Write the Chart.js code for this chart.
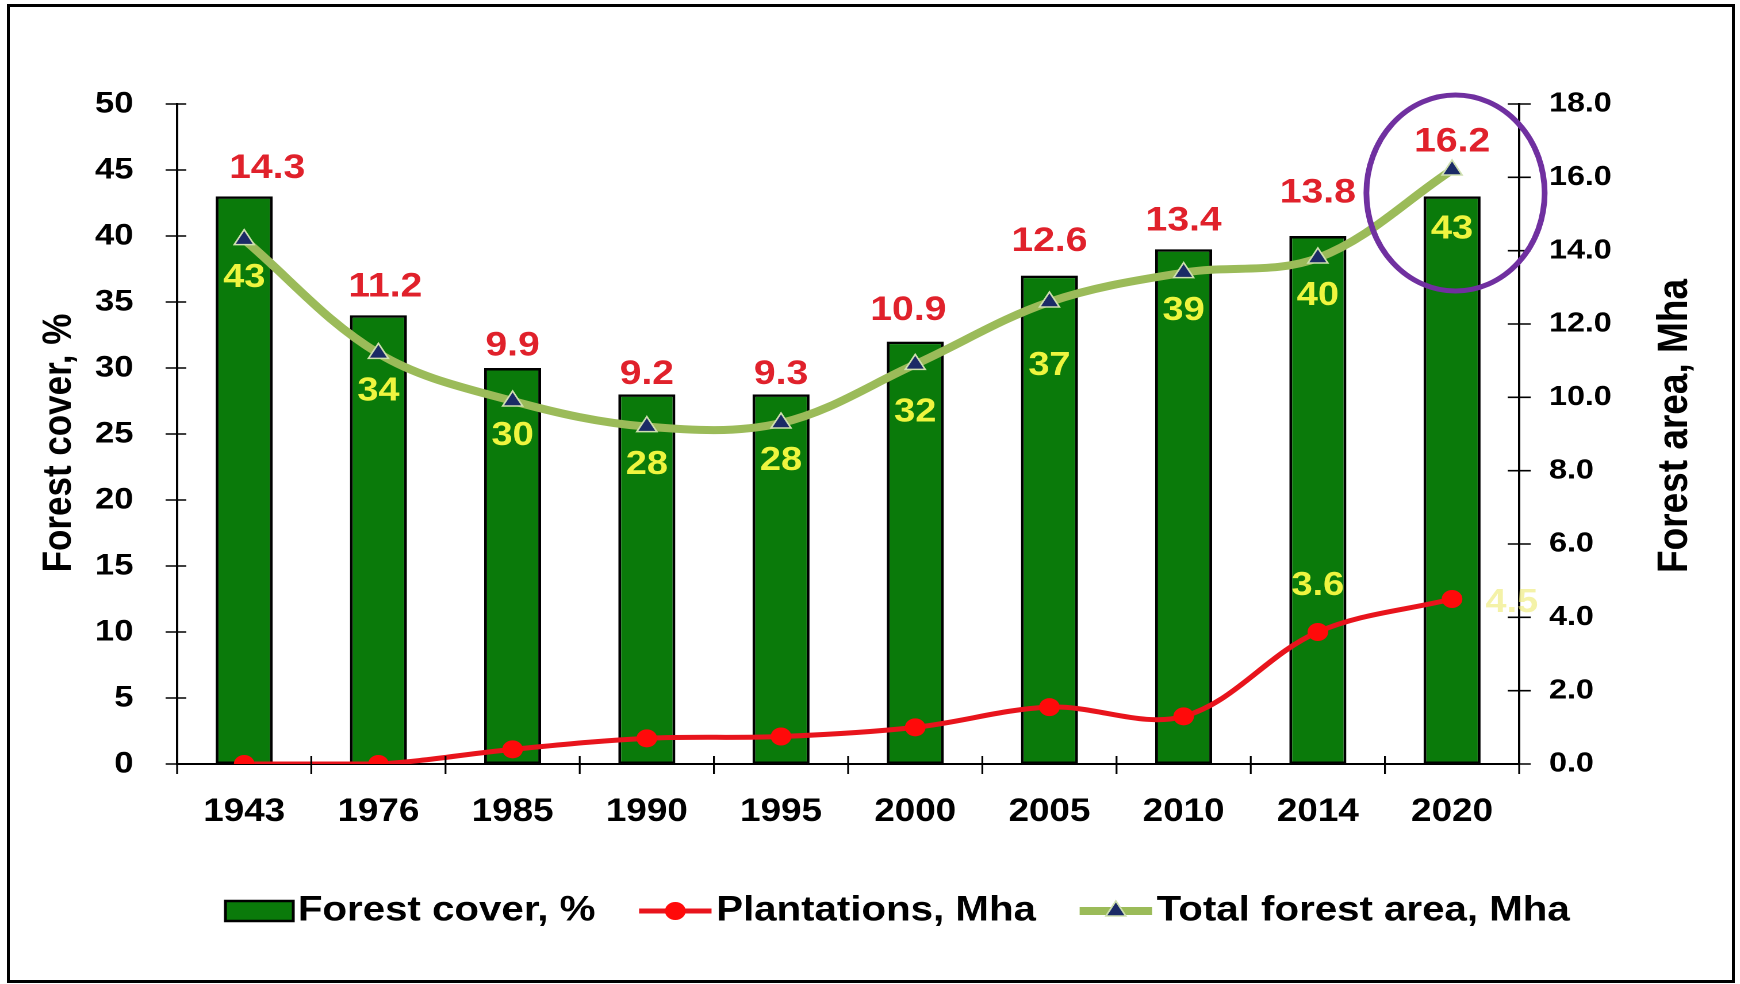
<!DOCTYPE html>
<html>
<head>
<meta charset="utf-8">
<script src="https://cdn.jsdelivr.net/npm/chart.js@4.4.1/dist/chart.umd.min.js"></script>
<style>
html,body{margin:0;padding:0;background:#fff;width:1740px;height:984px;overflow:hidden;}
#wrap{position:absolute;left:0;top:0;width:1513px;height:984px;transform:scaleX(1.15);transform-origin:0 0;}
#frame{position:absolute;left:7px;top:4px;width:1728px;height:979px;border:3px solid #000;box-sizing:border-box;pointer-events:none;}
</style>
</head>
<body>
<div id="wrap"><canvas id="c" width="1513" height="984"></canvas></div>
<div id="frame"></div>
<script>
// ---- data ----
const years = ['1943','1976','1985','1990','1995','2000','2005','2010','2014','2020'];
const forestCover = [43, 34, 30, 28, 28, 32, 37, 39, 40, 43];          // %
const plantations = [0, 0, 0.4, 0.7, 0.75, 1.0, 1.55, 1.3, 3.6, 4.5];  // Mha
const totalArea   = [14.3, 11.2, 9.9, 9.2, 9.3, 10.9, 12.6, 13.4, 13.8, 16.2]; // Mha
const leftAxisTitle  = 'Forest cover, %';
const rightAxisTitle = 'Forest area, Mha';
const plantLabelIdx  = [8, 9];   // plantation values that carry a label

// ---- styles ----
const FONT = "'Liberation Sans', Arial, sans-serif";
const BAR_GREEN = '#0a7a0a';
const RED_LINE = '#e8141c';
const RED_PT = '#ff0a0a';
const OLIVE = '#9bbb59';
const NAVY = '#1b2b66';
const LABEL_RED = '#e0212b';
const LABEL_YEL = '#eef53f';
const redNudgeY = [0, 0, 6, 8, 8, -3, -6, 0, -15, 0];
const redNudgeX = [20, 6, 0, 0, 0, -6, 0, 0, 0, 0];
const yelNudge = [0, 0, -3, 0, 0, 10, 26, 0, 0, 3];

const decor = {
  id: 'decor',
  afterDraw(chart) {
    const {ctx, chartArea: a, scales: {x, y, y1}} = chart;
    ctx.save();
    // crossing tick marks
    ctx.strokeStyle = '#000';
    ctx.lineWidth = 1.6;
    ctx.beginPath();
    y.ticks.forEach(t => { const p = y.getPixelForValue(t.value); ctx.moveTo(a.left - 10, p); ctx.lineTo(a.left + 8, p); });
    y1.ticks.forEach(t => { const p = y1.getPixelForValue(t.value); ctx.moveTo(a.right - 10, p); ctx.lineTo(a.right + 10, p); });
    const half = (x.getPixelForTick(1) - x.getPixelForTick(0)) / 2;
    for (let i = 0; i <= years.length; i++) {
      const p = (i < years.length ? x.getPixelForTick(i) : x.getPixelForTick(years.length - 1) + 2 * half) - half;
      ctx.moveTo(p, a.bottom - 8); ctx.lineTo(p, a.bottom + 10);
    }
    ctx.stroke();

    // axis titles
    ctx.fillStyle = '#000';
    ctx.textAlign = 'center';
    ctx.textBaseline = 'middle';
    ctx.save();
    ctx.font = `bold 35px ${FONT}`;
    ctx.translate(52, (a.top + a.bottom) / 2 + 9);
    ctx.rotate(-Math.PI / 2);
    ctx.fillText(leftAxisTitle, 0, 0);
    ctx.restore();
    ctx.save();
    ctx.font = `bold 37px ${FONT}`;
    ctx.translate(1457, (a.top + a.bottom) / 2 - 8);
    ctx.rotate(-Math.PI / 2);
    ctx.fillText(rightAxisTitle, 0, 0);
    ctx.restore();

    // data labels
    const mBar = chart.getDatasetMeta(0), mPl = chart.getDatasetMeta(1), mTot = chart.getDatasetMeta(2);
    ctx.font = `bold 34px ${FONT}`;
    ctx.fillStyle = LABEL_RED;
    totalArea.forEach((v, i) => {
      const bt = mBar.data[i].y, tp = mTot.data[i].y;
      ctx.fillText(v.toFixed(1), mTot.data[i].x + redNudgeX[i], Math.min(bt, tp) - 28 + redNudgeY[i]);
    });
    ctx.font = `bold 33px ${FONT}`;
    ctx.fillStyle = LABEL_YEL;
    forestCover.forEach((v, i) => {
      const bt = mBar.data[i].y, tp = mTot.data[i].y;
      ctx.fillText(String(v), mBar.data[i].x, Math.max(tp + 38, bt + 30) + yelNudge[i]);
    });
    plantLabelIdx.forEach((i, k) => {
      const pt = mPl.data[i];
      if (k === 0) {
        ctx.fillStyle = LABEL_YEL; ctx.textAlign = 'center';
        ctx.fillText(plantations[i].toFixed(1), pt.x, pt.y - 46);
      } else {
        ctx.fillStyle = 'rgba(236,234,110,0.6)'; ctx.textAlign = 'left';
        ctx.fillText(plantations[i].toFixed(1), pt.x + 29, pt.y + 4);
      }
    });

    // legend
    const ly = 911;
    let lx = 196;
    ctx.textAlign = 'left';
    ctx.font = `bold 35px ${FONT}`;
    const ds = chart.data.datasets;
    ctx.fillStyle = BAR_GREEN; ctx.fillRect(lx, ly - 10, 59, 20);
    ctx.strokeStyle = '#000'; ctx.lineWidth = 2.5; ctx.strokeRect(lx, ly - 10, 59, 20);
    lx += 63;
    ctx.fillStyle = '#000'; ctx.fillText(ds[0].label, lx, ly);
    lx += ctx.measureText(ds[0].label).width + 38;
    ctx.strokeStyle = RED_LINE; ctx.lineWidth = 5;
    ctx.beginPath(); ctx.moveTo(lx, ly); ctx.lineTo(lx + 63, ly); ctx.stroke();
    ctx.fillStyle = RED_PT; ctx.beginPath(); ctx.arc(lx + 31.5, ly, 9, 0, Math.PI * 2); ctx.fill();
    lx += 67;
    ctx.fillStyle = '#000'; ctx.fillText(ds[1].label, lx, ly);
    lx += ctx.measureText(ds[1].label).width + 38;
    ctx.strokeStyle = OLIVE; ctx.lineWidth = 8;
    ctx.beginPath(); ctx.moveTo(lx, ly); ctx.lineTo(lx + 63, ly); ctx.stroke();
    ctx.fillStyle = NAVY; ctx.strokeStyle = '#cfe0b0'; ctx.lineWidth = 1.5;
    Chart.helpers.drawPoint(ctx, {pointStyle: 'triangle', radius: 10, rotation: 0, borderWidth: 1.5}, lx + 31.5, ly);
    lx += 67;
    ctx.fillStyle = '#000'; ctx.fillText(ds[2].label, lx, ly);

    // highlight ellipse around the 2020 total-area point
    const last = mTot.data[years.length - 1];
    ctx.strokeStyle = '#7030a0'; ctx.lineWidth = 5;
    ctx.beginPath(); ctx.ellipse(last.x + 3, last.y + 23, 77.5, 98, 0, 0, Math.PI * 2); ctx.stroke();
    ctx.restore();
  }
};

new Chart(document.getElementById('c'), {
  type: 'bar',
  data: {
    labels: years,
    datasets: [
      {type: 'bar', label: 'Forest cover, %', data: forestCover, yAxisID: 'y',
       backgroundColor: BAR_GREEN, borderColor: '#000', borderWidth: 2.5, borderSkipped: false,
       categoryPercentage: 1, barPercentage: 0.425, order: 3},
      {type: 'line', label: 'Plantations, Mha', data: plantations, yAxisID: 'y1',
       borderColor: RED_LINE, borderWidth: 5, pointStyle: 'circle', pointRadius: 9,
       pointBackgroundColor: RED_PT, pointBorderWidth: 0, tension: 0.35, order: 1},
      {type: 'line', label: 'Total forest area, Mha', data: totalArea, yAxisID: 'y1',
       borderColor: OLIVE, borderWidth: 8, pointStyle: 'triangle', pointRadius: 10,
       pointBackgroundColor: NAVY, pointBorderColor: '#cfe0b0', pointBorderWidth: 1.5,
       tension: 0.35, order: 2}
    ]
  },
  options: {
    responsive: false,
    animation: false,
    devicePixelRatio: 2,
    layout: {padding: {top: 104, left: 0, right: 0, bottom: 0}},
    plugins: {legend: {display: false}, tooltip: {enabled: false}},
    scales: {
      x: {
        grid: {display: false},
        border: {display: true, color: '#000', width: 2},
        ticks: {font: {family: FONT, size: 32, weight: 'bold'}, color: '#000', padding: 21, maxRotation: 0},
        afterFit(s) { s.height = 220; }
      },
      y: {
        position: 'left', min: 0, max: 50,
        grid: {display: false},
        border: {display: true, color: '#000', width: 2},
        ticks: {stepSize: 5, font: {family: FONT, size: 30, weight: 'bold'}, color: '#000', padding: 30},
        afterFit(s) { s.width = 154; }
      },
      y1: {
        position: 'right', min: 0, max: 18,
        grid: {display: false},
        border: {display: true, color: '#000', width: 2},
        ticks: {stepSize: 2, callback: v => Number(v).toFixed(1), font: {family: FONT, size: 28, weight: 'bold'}, color: '#000', padding: 18},
        afterFit(s) { s.width = 192; }
      }
    }
  },
  plugins: [decor]
});
</script>
</body>
</html>
